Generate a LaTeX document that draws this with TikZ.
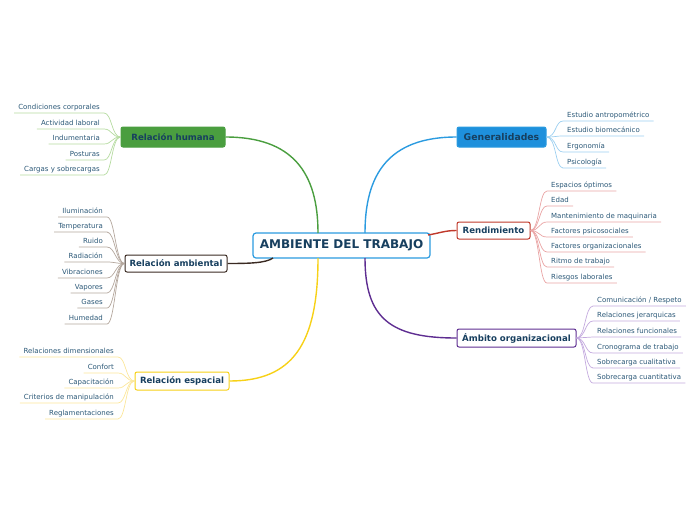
\documentclass[tikz,border=0pt]{standalone}
\usepackage{fontspec}
\setmainfont{DejaVu Sans}
\definecolor{titletext}{HTML}{173F5F}
\definecolor{leaftext}{HTML}{2B5877}
\definecolor{cblue}{HTML}{2B9BE0}
\definecolor{genfill}{HTML}{1E90DC}
\definecolor{lblue}{HTML}{9CCFF0}
\definecolor{cred}{HTML}{C0392B}
\definecolor{lred}{HTML}{E9A3A3}
\definecolor{cpurple}{HTML}{5E2D91}
\definecolor{lpurple}{HTML}{C3A9DE}
\definecolor{cgreen}{HTML}{4A9E3F}
\definecolor{lgreen}{HTML}{B5DBA0}
\definecolor{cbrown}{HTML}{3A2A22}
\definecolor{lbrown}{HTML}{B3A69C}
\definecolor{cyellow}{HTML}{F7D117}
\definecolor{lyellow}{HTML}{FBE69A}
\tikzset{
  leaf/.style={font=\fontsize{7}{8}\selectfont, text=leaftext, inner xsep=4pt, inner ysep=2pt, text height=5.2pt, text depth=1.6pt},
  branchbox/.style={rounded corners=2pt, line width=1pt, inner sep=0pt, text=titletext, font=\fontsize{8.6}{10}\bfseries},
  mainline/.style={line width=1.4pt},
  leafline/.style={line width=0.7pt},
}
\begin{document}
\begin{tikzpicture}[x=1pt,y=-1pt]
\useasboundingbox (0,0) rectangle (696,520);
% central
\node[rounded corners=3pt, draw=cblue, fill=white, line width=1.2pt, minimum width=177pt, minimum height=25pt, inner sep=0pt, text=titletext, font=\fontsize{12}{14}\bfseries] (c) at (341.5,245.5) {AMBIENTE DEL TRABAJO};
% branches
\node[branchbox, draw=cblue, fill=genfill, minimum width=89pt, minimum height=20pt, font=\fontsize{9.3}{11}\bfseries] (gen) at (501.5,137) {Generalidades};
\node[branchbox, draw=cred, fill=white, minimum width=73pt, minimum height=17pt] (ren) at (493.5,230.5) {Rendimiento};
\node[branchbox, draw=cpurple, fill=white, minimum width=119pt, minimum height=18pt] (amb) at (516.5,338) {Ámbito organizacional};
\node[branchbox, draw=cgreen, fill=cgreen, minimum width=104pt, minimum height=20pt] (hum) at (173,137) {Relación humana};
\node[branchbox, draw=cbrown, fill=white, minimum width=102pt, minimum height=17pt] (ramb) at (176,263.5) {Relación ambiental};
\node[branchbox, draw=cyellow, fill=white, minimum width=94pt, minimum height=18pt] (esp) at (182,381) {Relación espacial};
% anchor points on central node
\coordinate (cgen) at (365,233);
\coordinate (chum) at (318,233);
\coordinate (cren) at (428,235);
\coordinate (camb) at (365,258);
\coordinate (cramb) at (273,258);
\coordinate (cesp) at (318,258);
\draw[mainline, cblue] (cgen) .. controls (365,175) and (388,137) .. (gen.west);
\draw[mainline, cgreen] (chum) .. controls (318,172) and (292,137) .. (hum.east);
\draw[mainline, cred] (cren) .. controls (440,233) and (445,230.5) .. (ren.west);
\draw[mainline, cpurple] (camb) .. controls (365,318) and (390,338) .. (amb.west);
\draw[mainline, cbrown] (cramb) .. controls (266,263) and (250,263.5) .. (ramb.east);
\draw[mainline, cyellow] (cesp) .. controls (318,345) and (292,381) .. (esp.east);
% Generalidades leaves
\foreach \n/\y/\t in {g1/121/Estudio antropométrico, g2/136/Estudio biomecánico, g3/152/Ergonomía, g4/168/Psicología}{
  \node[leaf, anchor=south west] (\n) at (563,\y) {\t};
  \draw[leafline, lblue] (gen.east) .. controls +(10,0) and +(-8,0) .. (\n.south west) -- (\n.south east);
}
% Rendimiento leaves
\foreach \n/\y/\t in {r1/191/Espacios óptimos, r2/206/Edad, r3/222/Mantenimiento de maquinaria, r4/237/Factores psicosociales, r5/252/Factores organizacionales, r6/267/Ritmo de trabajo, r7/283/Riesgos laborales}{
  \node[leaf, anchor=south west] (\n) at (547,\y) {\t};
  \draw[leafline, lred] (ren.east) .. controls +(9,0) and +(-8,0) .. (\n.south west) -- (\n.south east);
}
% Ambito leaves
\foreach \n/\y/\t in {a1/306/{Comunicación / Respeto}, a2/321/Relaciones jerarquicas, a3/337/Relaciones funcionales, a4/353/Cronograma de trabajo, a5/368/Sobrecarga cualitativa, a6/383/Sobrecarga cuantitativa}{
  \node[leaf, anchor=south west] (\n) at (593,\y) {\t};
  \draw[leafline, lpurple] (amb.east) .. controls +(9,0) and +(-8,0) .. (\n.south west) -- (\n.south east);
}
% Relacion humana leaves
\foreach \n/\y/\t in {h1/113/Condiciones corporales, h2/129/Actividad laboral, h3/144/Indumentaria, h4/160/Posturas, h5/175/Cargas y sobrecargas}{
  \node[leaf, anchor=south east] (\n) at (104,\y) {\t};
  \draw[leafline, lgreen] (hum.west) .. controls +(-9,0) and +(8,0) .. (\n.south east) -- (\n.south west);
}
% Relacion ambiental leaves
\foreach \n/\y/\t in {m1/217/Iluminación, m2/232/Temperatura, m3/247/Ruido, m4/262/Radiación, m5/278/Vibraciones, m6/293/Vapores, m7/308/Gases, m8/324/Humedad}{
  \node[leaf, anchor=south east] (\n) at (107,\y) {\t};
  \draw[leafline, lbrown] (ramb.west) .. controls +(-9,0) and +(8,0) .. (\n.south east) -- (\n.south west);
}
% Relacion espacial leaves
\foreach \n/\y/\t in {e1/357/Relaciones dimensionales, e2/373/Confort, e3/388/Capacitación, e4/403/Criterios de manipulación, e5/419/Reglamentaciones}{
  \node[leaf, anchor=south east] (\n) at (118,\y) {\t};
  \draw[leafline, lyellow] (esp.west) .. controls +(-9,0) and +(8,0) .. (\n.south east) -- (\n.south west);
}
\end{tikzpicture}
\end{document}
